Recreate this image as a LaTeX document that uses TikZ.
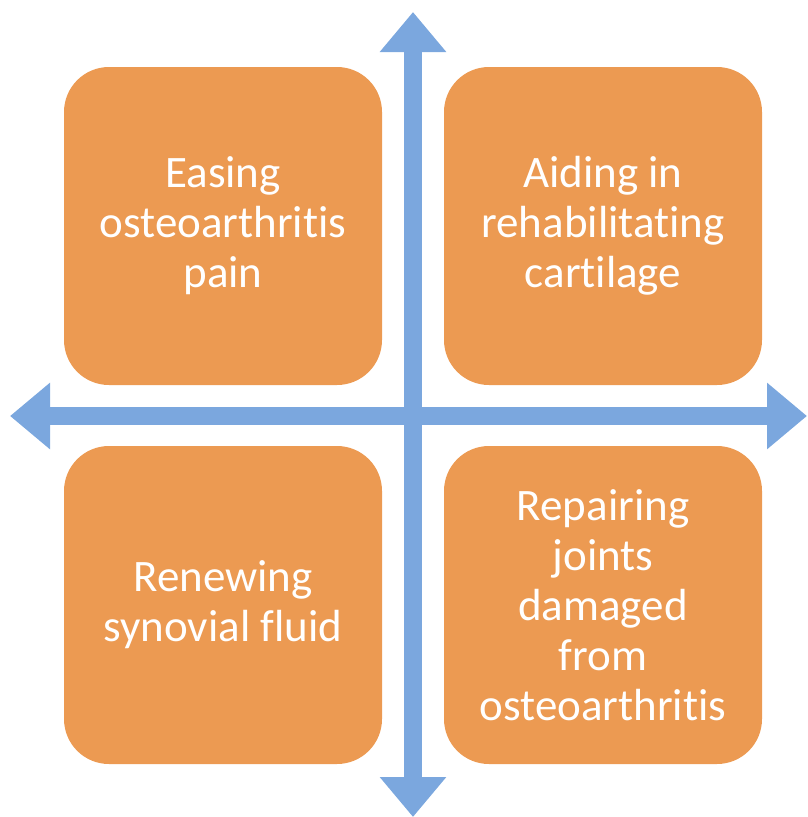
\documentclass[tikz,border=0pt]{standalone}
\usepackage{fontspec}
\setmainfont[RawFeature={-liga;-clig;-calt;-dlig}]{Carlito}
\usetikzlibrary{arrows.meta}
\definecolor{boxorange}{HTML}{EC9A52}
\definecolor{axisblue}{HTML}{7BA7DE}

\begin{document}
\begin{tikzpicture}[
        x=1pt, y=-1pt,
        quad/.style={fill=boxorange, rounded corners=45pt, minimum width=318pt, minimum height=318pt,
            align=center, text=white, font=\fontsize{45}{50}\selectfont, inner sep=0pt},
        axis/.style={axisblue, line width=18pt, {Triangle[width=64pt,length=40pt]}-{Triangle[width=64pt,length=40pt]}}
    ]
    \useasboundingbox (0,0) rectangle (807,817);

    % --- Axes ---
    \coordinate (west) at (10,416);
    \coordinate (east) at (807,416);
    \coordinate (north) at (413,12);
    \coordinate (south) at (413,817);
    \draw[axis] (west) -- (east);
    \draw[axis] (north) -- (south);

    % --- Four quadrants ---
    \node[quad] (pain) at (223,226) {Easing\\osteoarthritis\\pain};
    \node[quad] (cartilage) at (603,226) {Aiding in\\rehabilitating\\cartilage};
    \node[quad] (fluid) at (223,605) {Renewing\\synovial fluid};
    \node[quad] (joints) at (603,605) {Repairing\\joints\\damaged\\from\\osteoarthritis};
\end{tikzpicture}
\end{document}
